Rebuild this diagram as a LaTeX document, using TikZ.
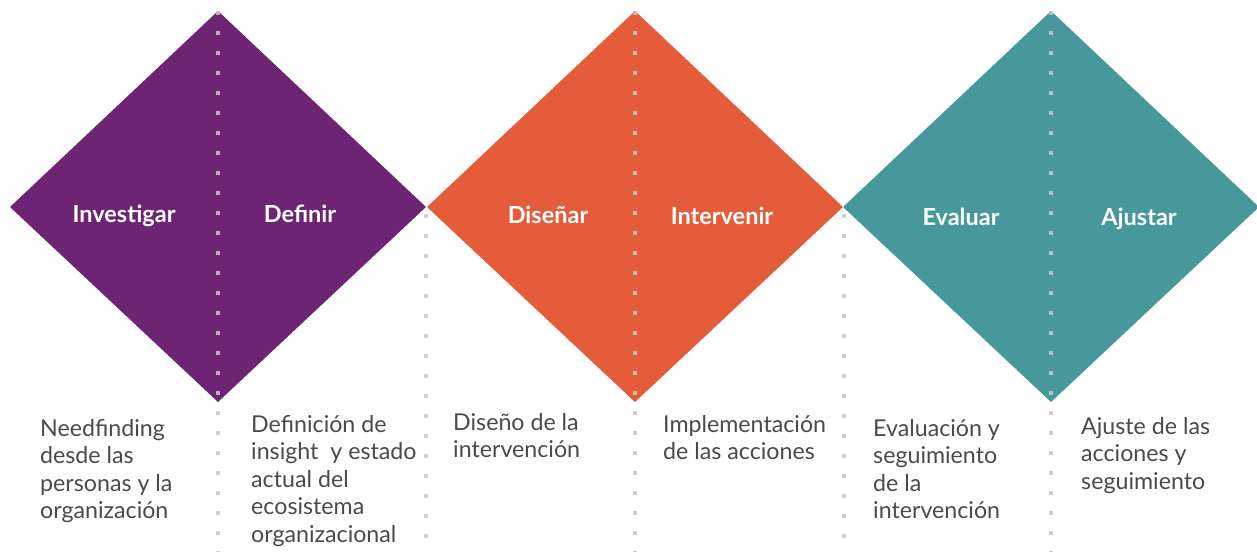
\documentclass[tikz,border=0pt]{standalone}
\usepackage{fontspec}
\setmainfont{Lato}
\definecolor{cpurple}{HTML}{6C2473}
\definecolor{corange}{HTML}{E55C3B}
\definecolor{cteal}{HTML}{46989A}
\definecolor{ctext}{HTML}{4A4A4A}
\definecolor{cdot}{HTML}{C8C8C8}
\tikzset{
  dotline/.style={draw=cdot, line width=4pt, dash pattern=on 4pt off 16pt, opacity=0.85},
  phase/.style={text=white, font=\fontsize{23.5}{28}\selectfont\bfseries, anchor=base, inner sep=0pt},
  desc/.style={text=ctext, anchor=base west, inner sep=0pt},
}
\newcommand{\desctext}[1]{\parbox[t]{260pt}{\raggedright\fontsize{23.2}{27.5}\selectfont #1}}
\begin{document}
\begin{tikzpicture}[x=1pt,y=-1pt]
\useasboundingbox (0,0) rectangle (1257,552);
% diamonds
\foreach \cx/\col/\nm in {218/cpurple/a, 635/corange/b, 1051/cteal/c}{
  \coordinate (\nm-t) at (\cx,11);
  \coordinate (\nm-b) at (\cx,402);
  \coordinate (\nm-l) at (\cx-208,207);
  \coordinate (\nm-r) at (\cx+208,207);
  \fill[\col] (\nm-t) -- (\nm-r) -- (\nm-b) -- (\nm-l) -- cycle;
}
% dotted lines
\coordinate (d1t) at (218,11);  \coordinate (d1b) at (218,552);
\coordinate (d2t) at (426,214); \coordinate (d2b) at (426,552);
\coordinate (d3t) at (635,11);  \coordinate (d3b) at (635,552);
\coordinate (d4t) at (844,214); \coordinate (d4b) at (844,552);
\coordinate (d5t) at (1051,11); \coordinate (d5b) at (1051,552);
\foreach \i in {1,...,5}{ \draw[dotline] (d\i t) -- (d\i b); }
% phase labels
\node[phase] (l1) at (124,222) {Investigar};
\node[phase] (l2) at (300,222) {Definir};
\node[phase] (l3) at (548,223) {Diseñar};
\node[phase] (l4) at (722,224) {Intervenir};
\node[phase] (l5) at (961,225) {Evaluar};
\node[phase] (l6) at (1139,225) {Ajustar};
% descriptions
\node[desc] (t1) at (40,436) {\desctext{Needfinding\\desde las\\personas y la\\organización}};
\node[desc] (t2) at (251,432) {\desctext{Definición de\\insight\ \ y estado\\actual del\\ecosistema\\organizacional}};
\node[desc] (t3) at (453,430) {\desctext{Diseño de la\\intervención}};
\node[desc] (t4) at (663,432) {\desctext{Implementación\\de las acciones}};
\node[desc] (t5) at (873,436) {\desctext{Evaluación y\\seguimiento\\de la\\intervención}};
\node[desc] (t6) at (1081,434) {\desctext{Ajuste de las\\acciones y\\seguimiento}};
\end{tikzpicture}
\end{document}
